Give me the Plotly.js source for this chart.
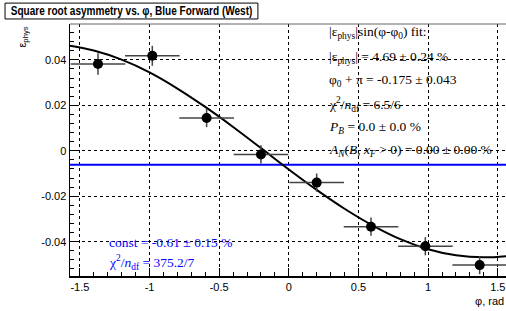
<!DOCTYPE html>
<html><head><meta charset="utf-8">
<script src="https://cdn.plot.ly/plotly-3.0.1.min.js"></script>
<style>html,body{margin:0;padding:0;overflow:hidden;background:#fff}</style>
</head><body><div id="chart" style="width:506px;height:311px"></div>
<script>
// data points (phi bin centres, asymmetry)
const phi = [-1.37, -0.98, -0.59, -0.20, 0.20, 0.59, 0.98, 1.37];
const eps = [0.0382, 0.0418, 0.0144, -0.0016, -0.0140, -0.0334, -0.0420, -0.0503];
const phiErr = [0.196, 0.196, 0.196, 0.196, 0.196, 0.196, 0.196, 0.196];
const epsErr = [0.0047, 0.0044, 0.0040, 0.0040, 0.0040, 0.0040, 0.0040, 0.0040];
// fit curve
const fitPhi = [-1.571, -1.4, -1.2, -1.0, -0.8, -0.6, -0.4, -0.2, 0.0, 0.2, 0.4, 0.6, 0.8, 1.0, 1.2, 1.4, 1.571];
const fitEps = [0.0462, 0.0441, 0.0401, 0.0345, 0.0274, 0.0193, 0.0105, 0.0012, -0.0082, -0.0172, -0.0255, -0.0328, -0.0389, -0.0433, -0.0460, -0.0469, -0.0463];
// constant fit
const constPhi = [-1.571, 1.571];
const constEps = [-0.0061, -0.0061];
// ticks
const xTickVals = [-1.5, -1, -0.5, 0, 0.5, 1, 1.5];
const xTickText = ["-1.5", "-1", "-0.5", "0", "0.5", "1", "1.5"];
const yTickVals = [-0.04, -0.02, 0, 0.02, 0.04];
const yTickText = ["-0.04", "-0.02", "0", "0.02", "0.04"];

const traces = [
  {x: constPhi, y: constEps, mode: 'lines', line: {color: '#0000ff', width: 2}, hoverinfo: 'skip'},
  {x: fitPhi, y: fitEps, mode: 'lines', line: {color: '#000', width: 2, shape: 'spline'}, hoverinfo: 'skip'},
  {x: phi, y: eps, mode: 'markers', marker: {color: '#000', size: 10},
   error_x: {type: 'data', array: phiErr, color: '#444', thickness: 1.5, width: 0},
   error_y: {type: 'data', array: epsErr, color: '#444', thickness: 1.5, width: 0}}
];

const serif = 'Liberation Serif, Times New Roman, serif';
const ann = (x, y, t, col) => ({xref: 'x', yref: 'y', x: x, y: y, text: t, showarrow: false,
  xanchor: 'left', yanchor: 'middle', borderpad: 0, font: {family: serif, size: 13.5, color: col || '#000'}});
const sub = s => '<sub>' + s + '</sub>';

const layout = {
  width: 506, height: 311,
  margin: {l: 70, r: 0, t: 24, b: 35},
  paper_bgcolor: '#fff', plot_bgcolor: '#fff',
  showlegend: false,
  font: {family: 'Liberation Sans, Arial, sans-serif', size: 11, color: '#000'},
  xaxis: {range: [-1.5708, 1.559], tickvals: xTickVals, ticktext: xTickText,
    ticks: 'inside', ticklen: 8, tickcolor: '#000', tickwidth: 1,
    showline: true, linecolor: '#000', linewidth: 1.5, mirror: false,
    showgrid: true, gridcolor: '#000', griddash: 'dot', gridwidth: 1, zeroline: false,
    minor: {dtick: 0.1, ticks: 'inside', ticklen: 4, tickcolor: '#000', showgrid: false},
    tickfont: {size: 11}},
  yaxis: {range: [-0.0551, 0.0558], tickvals: yTickVals, ticktext: yTickText,
    ticks: 'inside', ticklen: 8, tickcolor: '#000', tickwidth: 1,
    showline: true, linecolor: '#000', linewidth: 1.5,
    showgrid: true, gridcolor: '#000', griddash: 'dot', gridwidth: 1, zeroline: false,
    minor: {dtick: 0.004, ticks: 'inside', ticklen: 4, tickcolor: '#000', showgrid: false},
    tickfont: {size: 11}},
  shapes: [
    {type: 'line', xref: 'paper', yref: 'paper', x0: 0, x1: 1, y0: 1, y1: 1, line: {color: '#666', width: 1}},
    {type: 'rect', xref: 'paper', yref: 'paper', x0: -0.149, x1: 0.431, y0: 1.02, y1: 1.083,
     line: {color: '#000', width: 1}, fillcolor: '#fff', layer: 'below'}
  ],
  annotations: [
    {xref: 'paper', yref: 'paper', x: 0.141, y: 1.0515, text: '<b>Square root asymmetry vs. φ, Blue Forward (West)</b>',
     showarrow: false, xanchor: 'center', yanchor: 'middle',
     font: {family: 'Liberation Sans, Arial, sans-serif', size: 12, color: '#000'}},
    {xref: 'paper', yref: 'paper', x: -0.110, y: 0.996, text: 'ε' + sub('phys'), textangle: -90,
     showarrow: false, xanchor: 'center', yanchor: 'top', font: {size: 11, color: '#000'}},
    {xref: 'paper', yref: 'paper', x: 1, y: -0.067, text: 'φ, rad',
     showarrow: false, xanchor: 'right', yanchor: 'top', font: {size: 11, color: '#000'}},
    ann(0.283, 0.0519, '|ε' + sub('phys') + '|sin(φ-φ' + sub('0') + ') fit:'),
    ann(0.283, 0.0410, '|ε' + sub('phys') + '| = 4.69 ± 0.24 %'),
    ann(0.283, 0.0309, 'φ' + sub('0') + ' + π = -0.175 ± 0.043'),
    ann(0.283, 0.0204, 'χ<sup>2</sup>/<i>n</i>' + sub('df') + ' = 6.5/6'),
    ann(0.283, 0.0104, '<i>P</i>' + sub('<i>B</i>') + ' = 0.0 ± 0.0 %'),
    ann(0.283, 0.0003, '<i>A</i>' + sub('<i>N</i>') + '(<i>B</i>, <i>x</i>' + sub('<i>F</i>') + ' > 0) = 0.00 ± 0.00 %'),
    ann(-1.30, -0.0403, 'const = -0.61 ± 0.15 %', '#0000ff'),
    ann(-1.30, -0.0491, 'χ<sup>2</sup>/<i>n</i>' + sub('df') + ' = 375.2/7', '#0000ff')
  ]
};
Plotly.newPlot('chart', traces, layout, {staticPlot: true, displayModeBar: false}).then(gd => {
  // condense the title text horizontally to fit its box, like the original's narrow bold face
  const t = gd.querySelector('.annotation[data-index="0"] text');
  if (t) {
    const bb = t.getBBox();
    const cx = bb.x + bb.width / 2;
    const s = 242 / bb.width;
    if (s < 1) t.setAttribute('transform', 'translate(' + cx + ',0) scale(' + s + ',1) translate(' + (-cx) + ',0)');
  }
});
</script></body></html>
